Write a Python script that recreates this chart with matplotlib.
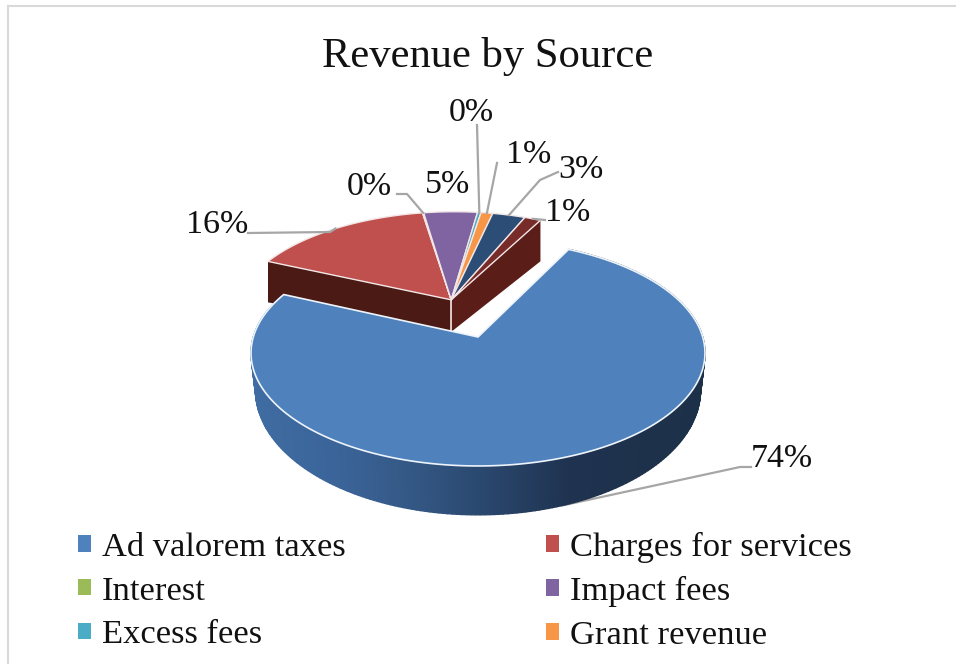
import numpy as np
import matplotlib
matplotlib.use("Agg")
import matplotlib.pyplot as plt
from matplotlib.patches import Patch
from matplotlib.lines import Line2D
from matplotlib.colors import to_rgb

categories = ["Ad valorem taxes", "Charges for services", "Interest", "Impact fees",
              "Excess fees", "Grant revenue", "Other revenue A", "Other revenue B"]
values = [73.7, 15.55, 0.1, 4.55, 0.3, 1.0, 2.8, 1.4]
pct_labels = ["74%", "16%", "0%", "5%", "0%", "1%", "3%", "1%"]
colors = ["#4f81bd", "#c0504d", "#9bbb59", "#8064a2", "#4bacc6", "#f79646", "#2c4d75", "#772c2a"]
legend_count = 6
title = "Revenue by Source"
start_angle = 27.0

plt.rcParams["font.family"] = ["Liberation Serif", "DejaVu Serif"]
fig = plt.figure(figsize=(9.56, 6.64), dpi=100)
ax = fig.add_axes([0, 0, 1, 1])
ax.set_xlim(0, 956)
ax.set_ylim(664, 0)
ax.axis("off")

# projection of the pie plane (perspective view)
OX, OY, K, A, B = 478.0, 337.0, 0.1416, 110.7, 224.7
D0 = 36.0
LOWER_X = 0.98


def proj(u, v, lower=False):
    u, v = np.asarray(u, float), np.asarray(v, float)
    w = 1 + K * v
    x = B * u / w
    y = OY - A * v / w
    if lower:
        x = x * LOWER_X
        y = y + D0 / w ** 2
    return OX + x, y


fracs = np.array(values) / sum(values)
edges = start_angle + np.concatenate([[0], np.cumsum(fracs) * 360])
mids = (edges[:-1] + edges[1:]) / 2
ex_dir = np.radians((edges[1] + edges[-1]) / 2)
GC = (0.374 * np.sin(ex_dir), 0.374 * np.cos(ex_dir))   # centre of the pulled-apart group
GR = 0.995
WALL_APEX, WALL_RIM = 32.0, 41.0


def rim(a0, a1, cx, cy, r, n=120):
    t = np.radians(np.linspace(a0, a1, n))
    return cx + r * np.sin(t), cy + r * np.cos(t)


def side_colour(x):
    stops_x = [251, 330, 400, 480, 570, 705]
    stops = np.array([to_rgb(c) for c in ["#3f6ca2", "#3b659a", "#355a88", "#2a486f", "#1f3350", "#1c3048"]])
    return [np.interp(x, stops_x, stops[:, i]) for i in range(3)]


# group of the smaller slices: walls, then top surfaces
aL, aR = edges[1], edges[-1]
for a, wall in ((aL, "#4b1a15"), (aR, "#5a1d17")):
    t = np.radians(a)
    u = np.array([GC[0], GC[0] + GR * np.sin(t)])
    v = np.array([GC[1], GC[1] + GR * np.cos(t)])
    x0, y0 = proj(u, v)
    ax.fill([x0[0], x0[1], x0[1], x0[0]],
            [y0[0], y0[1], y0[1] + WALL_RIM, y0[0] + WALL_APEX], color=wall, lw=0, zorder=2)
xa, ya0 = proj(GC[0], GC[1])
ax.plot([xa, xa], [ya0, ya0 + WALL_APEX], color="#f3e4e0", lw=1.2, zorder=2.5)

for i in range(1, len(values)):
    u, v = rim(edges[i], edges[i + 1], GC[0], GC[1], GR, 40)
    x, y = proj(np.r_[GC[0], u], np.r_[GC[1], v])
    ax.fill(x, y, facecolor=colors[i], edgecolor="#f2e6e6", lw=1.0, zorder=3, joinstyle="round")

# large slice: side made of thin quads, then top
u, v = rim(edges[0], edges[1], 0, 0, 1, 260)
xt, yt = proj(u, v)
xb, yb = proj(u, v, lower=True)
for j in range(len(u) - 1):
    c = side_colour((xt[j] + xt[j + 1]) / 2)
    ax.fill([xt[j], xt[j + 1], xb[j + 1], xb[j]], [yt[j], yt[j + 1], yb[j + 1], yb[j]],
            facecolor=c, edgecolor=c, lw=1.0, zorder=4)
x, y = proj(np.r_[0, u], np.r_[0, v])
ax.fill(x, y, facecolor=colors[0], edgecolor="#eef4fb", lw=1.2, zorder=5)

# data labels and leader lines
GRAY = "#a6a6a6"
label_pos = [(782, 459), (217, 225), (369, 187), (448, 185), (471, 113), (529, 155), (581, 170), (568, 213)]
elbows = [[(740, 467), (751, 467)], [(330, 232), (248, 233)], [(407, 194), (397, 194)], None,
          [(477, 125)], [(497, 163)], [(540, 180), (558, 172)], [(545, 220)]]
for i, (p, lab, el) in enumerate(zip(label_pos, pct_labels, elbows)):
    ax.text(p[0], p[1], lab, fontsize=24.5, ha="center", va="center", color="#111111", zorder=8)
    if el is None:
        continue
    t = np.radians(mids[i])
    if i == 0:
        sx, sy = proj(np.sin(t), np.cos(t), lower=True)
    else:
        sx, sy = proj(GC[0] + GR * np.sin(t), GC[1] + GR * np.cos(t))
    xs = [float(sx)] + [q[0] for q in el]
    ys = [float(sy)] + [q[1] for q in el]
    ax.plot(xs, ys, color=GRAY, lw=1.6, zorder=6 if i else 3.5, solid_joinstyle="round")

ax.text(488, 57, title, fontsize=30.7, ha="center", va="center", color="#111111", zorder=8)

# legend, filled column first to read row by row
order = [0, 2, 4, 1, 3, 5]
handles = [Patch(facecolor=colors[i], edgecolor="none", label=categories[i]) for i in order]
leg = ax.legend(handles=handles, ncol=2, loc="upper left", bbox_to_anchor=(0.0816, 0.199),
                frameon=False, fontsize=24.8, handlelength=0.38, handleheight=0.36,
                handletextpad=0.32, columnspacing=5.81, labelspacing=0.38, borderpad=0, borderaxespad=0)
for t in leg.get_texts():
    t.set_color("#111111")

# partial outer frame (left and top only)
for xs, ys in (([8.5, 8.5], [6, 664]), ([8, 956], [6, 6])):
    ax.add_line(Line2D(xs, ys, color="#d9d9d9", lw=1.5, zorder=1))
fig.savefig("out.png", dpi=100, facecolor="white")
